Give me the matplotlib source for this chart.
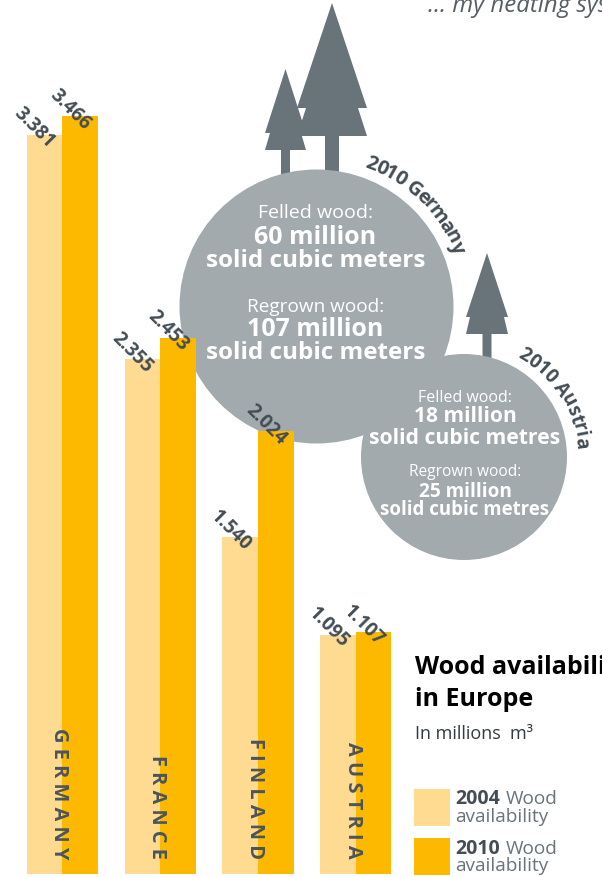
import numpy as np
import matplotlib
matplotlib.use('Agg')
import matplotlib.pyplot as plt
from matplotlib.patches import Circle, Polygon, Rectangle
from matplotlib.textpath import TextPath
from matplotlib.font_manager import FontProperties

plt.rcParams['font.family'] = ['Open Sans', 'DejaVu Sans']

countries = ['GERMANY', 'FRANCE', 'FINLAND', 'AUSTRIA']
wood_2004 = [3381, 2355, 1540, 1095]
wood_2010 = [3466, 2453, 2024, 1107]

LIGHT = '#ffdb91'
ORANGE = '#fdb900'
TREE = '#68737a'
DISC = '#a2aaae'
DARK = '#434d54'
W, H = 602, 877


def px(size):
    # font size given in image pixels
    return size * 0.72


def draw_tree(ax, cx, top, half, notch, mid, base, trunk, trunk_end):
    pts = [(cx, top), (cx + half, mid), (cx + notch, mid), (cx + half, base),
           (cx + trunk, base), (cx + trunk, trunk_end), (cx - trunk, trunk_end),
           (cx - trunk, base), (cx - half, base), (cx - notch, mid), (cx - half, mid)]
    ax.add_patch(Polygon(pts, closed=True, fc=TREE, ec='none', zorder=1))


def arc_text(ax, s, cx, cy, r, start, end, size):
    # one glyph at a time along a circle, angles clockwise from straight up
    fp = FontProperties(family='Open Sans', weight='bold')

    def width(t):
        return TextPath((0, 0), t + '|', size=size, prop=fp).get_extents().x1
    total = width(s)
    for i, ch in enumerate(s):
        mid = (width(s[:i]) + width(s[:i + 1])) / 2 / total
        a = start + (end - start) * mid
        x = cx + r * np.sin(np.radians(a))
        y = cy - r * np.cos(np.radians(a))
        ax.text(x, y, ch, fontsize=px(size), fontweight='bold', color=DARK,
                rotation=-a, rotation_mode='anchor', ha='center', va='center')


fig = plt.figure(figsize=(W / 100, H / 100), dpi=100)

# pixel layer for the discs, trees and side texts
deco = fig.add_axes([0, 0, 1, 1], zorder=1)
deco.set_xlim(0, W)
deco.set_ylim(H, 0)
deco.axis('off')

draw_tree(deco, 332, 3, 35, 26, 108, 136, 7, 180)
draw_tree(deco, 285.5, 69, 20.5, 15.5, 133, 150, 4.5, 180)
draw_tree(deco, 487, 253, 21, 17, 317, 334, 4.5, 365)

deco.add_patch(Circle((316.5, 306.5), 137, fc=DISC, ec='none', zorder=2))
deco.add_patch(Circle((464, 457), 103, fc=DISC, ec='none', zorder=2))

for y, s, size, bold in [(213, 'Felled wood:', 19.5, False),
                         (237, '60 million', 25, True),
                         (261, 'solid cubic meters', 24.2, True),
                         (307, 'Regrown wood:', 19, False),
                         (330, '107 million', 25, True),
                         (353, 'solid cubic meters', 24.2, True)]:
    deco.text(315.5, y, s, color='white', fontsize=px(size), ha='center', va='center',
              fontweight='bold' if bold else 'normal', zorder=3)

for y, s, size, bold in [(398, 'Felled wood:', 16, False),
                         (417, '18 million', 21, True),
                         (438, 'solid cubic metres', 21.2, True),
                         (472, 'Regrown wood:', 15.5, False),
                         (492, '25 million', 19, True),
                         (510, 'solid cubic metres', 18.6, True)]:
    deco.text(465, y, s, color='white', fontsize=px(size), ha='center', va='center',
              fontweight='bold' if bold else 'normal', zorder=3)

arc_text(deco, '2010 Germany', 316.5, 306.5, 152, 17, 69, 20)
arc_text(deco, '2010 Austria', 464, 457, 118, 25, 86, 19)

deco.text(428, 6, '... my heating system', fontsize=px(24), style='italic',
          color='#555e64', ha='left', va='center')

deco.text(415, 668, 'Wood availability', fontsize=px(25), fontweight='bold',
          color='black', ha='left', va='center')
deco.text(415, 699, 'in Europe', fontsize=px(25), fontweight='bold',
          color='black', ha='left', va='center')
deco.text(415, 734, 'In millions  m\u00b3', fontsize=px(18), color='#333b40',
          ha='left', va='center')

for y, col, year in [(789, LIGHT, '2004'), (838, ORANGE, '2010')]:
    deco.add_patch(Rectangle((414, y), 36, 36.5, fc=col, ec='none'))
    deco.text(455, y + 10.5, year, fontsize=px(19.5), fontweight='bold', color=DARK,
              ha='left', va='center')
    deco.text(506, y + 10.5, 'Wood', fontsize=px(19), color='#68737a',
              ha='left', va='center')
    deco.text(455, y + 28, 'availability', fontsize=px(19), color='#68737a',
              ha='left', va='center')

# bars sit on top of the discs, 0 at the bottom of the axes
ax = fig.add_axes([0, 3 / H, 1, 874 / H], zorder=2)
ax.patch.set_alpha(0)
ax.set_xlim(-62 / 98, (W - 62) / 98)
ax.set_ylim(0, 874 / 0.2187)
ax.axis('off')

x = np.arange(len(countries))
bw = 35.5 / 98
ax.bar(x - bw / 2, wood_2004, bw, color=LIGHT)
ax.bar(x + bw / 2, wood_2010, bw, color=ORANGE)

for i in x:
    for off, val in [(-bw / 2, wood_2004[i]), (bw / 2, wood_2010[i])]:
        label = '{}.{:03d}'.format(val // 1000, val % 1000)
        ax.annotate(label, (i + off, val), xytext=(-10 * 0.72, 6.5 * 0.72),
                    textcoords='offset points', rotation=-45, rotation_mode='anchor',
                    ha='center', va='center', fontsize=px(19), fontweight='bold', color=DARK)
    ax.annotate(' '.join(countries[i]), (i, 0), xytext=(-3 * 0.72, 15 * 0.72),
                textcoords='offset points', rotation=-90, ha='center', va='bottom',
                fontsize=px(20), fontweight='bold', color='#4a545b')

fig.savefig('out.png', dpi=100)
